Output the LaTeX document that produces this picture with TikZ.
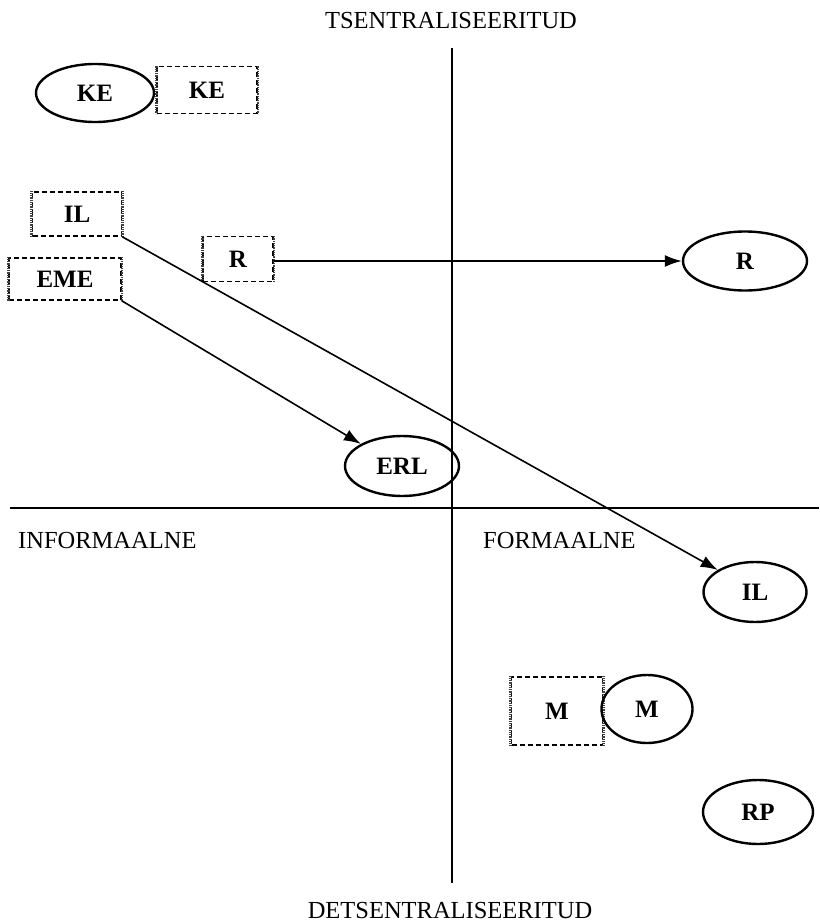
\documentclass[tikz,border=0pt]{standalone}
\usepackage{fontspec}
\setmainfont{Liberation Serif}
\usetikzlibrary{shapes.geometric,arrows.meta}

\tikzset{
  oval/.style={ellipse, draw, line width=2.4pt, inner sep=0pt,
               font=\fontsize{25}{27}\selectfont\bfseries},
  dbox/.style={rectangle, draw, dash pattern=on 5pt off 3pt, line width=1.6pt,
               inner sep=0pt, font=\fontsize{25}{27}\selectfont\bfseries},
  dside/.style={line width=2.6pt, dash pattern=on 1pt off 0.8pt, black!75},
  axis/.style={line width=1.5pt},
  axlabel/.style={font=\fontsize{24.5}{26}\selectfont, inner sep=0pt},
  link/.style={line width=1.6pt, -{Latex[length=17pt,width=12pt]}}
}

\begin{document}
\begin{tikzpicture}[x=1pt,y=-1pt]
  \useasboundingbox (0,0) rectangle (819,923);

  % axes
  \coordinate (vtop) at (452,48);
  \coordinate (vbot) at (452,883);
  \coordinate (hl) at (10,508);
  \coordinate (hr) at (819,508);
  \draw[axis] (vtop) -- (vbot);
  \draw[axis] (hl) -- (hr);

  % axis labels
  \node[axlabel] (tsen) at (451,21) {TSENTRALISEERITUD};
  \node[axlabel] (detsen) at (450,910) {DETSENTRALISEERITUD};
  \node[axlabel, anchor=west] (inform) at (18,541) {INFORMAALNE};
  \node[axlabel, anchor=west] (form) at (483,541) {FORMAALNE};

  % dashed boxes
  \node[dbox, minimum width=100pt, minimum height=47pt] (keB) at (207,90) {KE};
  \node[dbox, minimum width=89pt, minimum height=44pt] (ilB) at (77,214) {IL};
  \node[dbox, minimum width=112pt, minimum height=42pt] (emeB) at (65,279) {EME};
  \node[dbox, minimum width=70pt, minimum height=45pt] (rB) at (238,259) {R};
  \node[dbox, minimum width=91pt, minimum height=68pt] (mB) at (557,711) {M};

  % darker dotted sides of the boxes
  \foreach \b in {keB,ilB,emeB,rB,mB}{
    \draw[dside] (\b.north west) -- (\b.south west);
    \draw[dside] (\b.north east) -- (\b.south east);
  }

  % ovals
  \node[oval, minimum width=118pt, minimum height=58pt] (keE) at (95,93) {KE};
  \node[oval, minimum width=124pt, minimum height=59pt] (rE) at (745,261) {R};
  \node[oval, minimum width=114pt, minimum height=60pt] (erlE) at (402,466) {ERL};
  \node[oval, minimum width=103pt, minimum height=60pt] (ilE) at (755,592) {IL};
  \node[oval, minimum width=91pt, minimum height=68pt] (mE) at (647,709) {M};
  \node[oval, minimum width=110pt, minimum height=64pt] (rpE) at (758,812) {RP};

  % connectors
  \draw[link] (rB.east |- rE.west) -- (rE.west);
  \draw[link] (ilB.south east) -- (ilE.north west);
  \draw[link] (emeB.south east) -- (erlE.north west);
\end{tikzpicture}
\end{document}
